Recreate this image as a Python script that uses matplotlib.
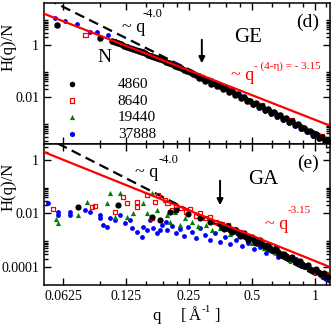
import numpy as np
import matplotlib
matplotlib.use('Agg')
import matplotlib.pyplot as plt
from matplotlib.ticker import FixedLocator, NullFormatter

plt.rcParams['font.family'] = ['Liberation Serif', 'DejaVu Serif']

# ---- GE panel data (q in 1/A, H(q)/N) ----
ge_q_4860 = [0.0585, 0.0939,
             0.1071, 0.1145, 0.1223, 0.1306, 0.1396, 0.149, 0.1592, 0.170, 0.1817, 0.194,
             0.2074, 0.2215, 0.2366, 0.2528, 0.270, 0.2884, 0.308, 0.329, 0.3516, 0.3756,
             0.401, 0.4287, 0.458, 0.489, 0.5225, 0.558, 0.596, 0.637, 0.680, 0.727,
             0.776, 0.829, 0.886, 0.946, 1.011, 1.080, 1.154,
             0.1108, 0.1183, 0.1264, 0.1349, 0.1442, 0.154, 0.1646, 0.1758, 0.1878, 0.2006,
             0.2143, 0.229, 0.2446, 0.261,
             0.279, 0.298, 0.318, 0.340, 0.3634, 0.388, 0.4147, 0.443, 0.473, 0.5056,
             0.540, 0.577, 0.616, 0.658, 0.703, 0.751, 0.8026, 0.857, 0.916, 0.978,
             1.045, 1.116]
ge_h_4860 = [5.88, 1.86,
             1.45, 1.17, 0.95, 0.767, 0.63, 0.519, 0.427, 0.352, 0.29, 0.228,
             0.181, 0.1426, 0.112, 0.089, 0.070, 0.0557, 0.0439, 0.0348, 0.0274, 0.0218,
             0.017, 0.013, 0.0098, 0.00733, 0.00567, 0.00443, 0.00345, 0.00265, 0.00203, 0.00156,
             0.00118, 0.00089, 0.000665, 0.000492, 0.000371, 0.000277, 0.000208,
             1.30, 1.05, 0.853, 0.695, 0.573, 0.471, 0.388, 0.319, 0.258, 0.203,
             0.160, 0.127, 0.1, 0.0794,
             0.052, 0.041, 0.032, 0.0255, 0.0200, 0.0158, 0.0119, 0.0091, 0.0069, 0.0053,
             0.0041, 0.0032, 0.0025, 0.00190, 0.00146, 0.00112, 0.00086, 0.00064, 0.00048, 0.00036,
             0.00027, 0.000202]
ge_q_8640 = [0.0798, 0.1145, 0.149, 0.2074, 0.2884, 0.401, 0.558, 0.776, 1.08]
ge_h_8640 = [2.42, 1.2, 0.55, 0.19, 0.058, 0.018, 0.0046, 0.00125, 0.0003]
ge_q_19440 = [0.122, 0.1592, 0.2366, 0.34, 0.489, 0.727, 0.946, 1.154]
ge_h_19440 = [0.98, 0.43, 0.115, 0.032, 0.0075, 0.0015, 0.00048, 0.000205]
ge_q_37888 = [0.0573, 0.0639, 0.073, 0.0841, 0.0909, 0.102,
              0.1108, 0.1183, 0.1264, 0.1349, 0.1442, 0.154, 0.1646, 0.1758, 0.1878, 0.2006,
              0.2143, 0.229, 0.2446, 0.261, 0.279, 0.298, 0.318, 0.340, 0.3634, 0.388,
              0.4147, 0.443,
              0.473, 0.5056, 0.540, 0.577, 0.616, 0.658, 0.703, 0.751, 0.8026, 0.857,
              0.916, 0.978, 1.045, 1.116]
ge_h_37888 = [10.9, 8.4, 6.4, 3.16, 3.3, 2.42,
              1.45, 1.05, 0.95, 0.695, 0.64, 0.471, 0.43, 0.319, 0.29, 0.203,
              0.18, 0.127, 0.112, 0.0794, 0.07, 0.0497, 0.044, 0.031, 0.0244, 0.0193,
              0.0146, 0.0111,
              0.0068, 0.0050, 0.0039, 0.0030, 0.0023, 0.00176, 0.00134, 0.00103, 0.00078, 0.00058,
              0.00044, 0.00033, 0.00025, 0.00018]

# ---- GA panel data ----
ga_q_4860 = [0.0737, 0.1145, 0.1664, 0.1817,
             0.2028, 0.217, 0.247, 0.282, 0.315,
             0.3516, 0.3675, 0.384, 0.401, 0.419, 0.438, 0.458, 0.479, 0.5, 0.5225,
             0.546, 0.571, 0.596, 0.623, 0.651, 0.680, 0.711, 0.743, 0.776, 0.811,
             0.848, 0.886, 0.926, 0.9675, 1.011, 1.056, 1.104, 1.154,
             0.3596, 0.3756, 0.3925, 0.4105, 0.4287, 0.448, 0.468, 0.489, 0.511, 0.534,
             0.558, 0.583, 0.609, 0.637, 0.666, 0.696, 0.727, 0.759, 0.794, 0.829,
             0.867, 0.906, 0.946, 1.0, 1.034, 1.080, 1.129]
ga_h_4860 = [0.0174, 0.0206, 0.0073, 0.0057,
             0.0113, 0.0134, 0.0095, 0.0067, 0.0048,
             0.0040, 0.0025, 0.0034, 0.00193, 0.0024, 0.00141, 0.00177, 0.00105, 0.0013, 0.00078,
             0.00101, 0.0006, 0.00065, 0.00043, 0.0005, 0.00028, 0.0003, 0.000214, 0.000233, 0.000151,
             0.000165, 0.000107, 0.000115, 7.6e-5, 8.3e-5, 5.8e-5, 5.8e-5, 4.2e-5,
             0.00318, 0.00284, 0.00245, 0.0021, 0.00184, 0.00159, 0.00139, 0.0012, 0.00101, 0.00085,
             0.000714, 0.0006, 0.000506, 0.000426, 0.000358, 0.0003, 0.000254, 0.000214, 0.00018, 0.000151,
             0.000124, 0.000103, 8.6e-5, 7.3e-5, 6.3e-5, 5.4e-5, 4.65e-5]
ga_q_8640 = [0.056, 0.086, 0.0889, 0.1108, 0.121, 0.1264, 0.1411, 0.1411, 0.1575, 0.1664,
             0.172, 0.1777, 0.192,
             0.197, 0.2074, 0.2167, 0.229, 0.242, 0.2528, 0.270, 0.282, 0.298, 0.315,
             0.336, 0.3596, 0.384, 0.4105, 0.438, 0.479, 0.5225, 0.583, 0.651, 0.727,
             0.811, 0.906, 1.011, 1.129]
ga_h_8640 = [0.0146, 0.0174, 0.0189, 0.0113, 0.0411, 0.0245, 0.0267, 0.0174, 0.0489, 0.0067,
             0.0267, 0.0489, 0.0318,
             0.0245, 0.0134, 0.0189, 0.0159, 0.0113, 0.0146, 0.0080, 0.0104, 0.0067, 0.0073,
             0.00476, 0.0040, 0.0037, 0.0026, 0.0020, 0.00141, 0.00101, 0.00065, 0.00043, 0.000254,
             0.000165, 0.000107, 6.9e-5, 5e-5]
ga_q_19440 = [0.0579, 0.0592, 0.0737, 0.0814, 0.1014, 0.1048, 0.117, 0.1108, 0.1264, 0.1349,
              0.1507, 0.1664, 0.1575, 0.1758,
              0.1955, 0.2028, 0.2143, 0.2265, 0.239, 0.2584, 0.276, 0.301, 0.322, 0.3516,
              0.3925, 0.438, 0.5, 0.571, 0.651, 0.759, 0.896, 1.056]
ga_h_19440 = [0.0062, 0.0044, 0.0087, 0.0267, 0.0245, 0.058, 0.058, 0.0073, 0.0073, 0.0104,
              0.0245, 0.058, 0.0104, 0.0134,
              0.0087, 0.0048, 0.0113, 0.0037, 0.0067, 0.0048, 0.0034, 0.0037, 0.0024, 0.0028,
              0.0017, 0.00141, 0.00078, 0.0005, 0.00033, 0.000179, 0.0001, 5.8e-5]
ga_q_37888 = [0.053, 0.0592, 0.0592, 0.0675, 0.0675, 0.0798, 0.0841, 0.0939, 0.0939, 0.097,
              0.1014, 0.1048, 0.1108, 0.117, 0.1236, 0.1306, 0.1335, 0.1411, 0.149, 0.1507,
              0.1575, 0.1628, 0.1682, 0.1758, 0.1817, 0.1857,
              0.194, 0.197, 0.2074, 0.2167, 0.2265, 0.2366, 0.247, 0.2584, 0.270, 0.282,
              0.298, 0.315, 0.333, 0.3516, 0.371, 0.3925, 0.419, 0.448, 0.479, 0.511,
              0.546, 0.583, 0.623, 0.666, 0.711, 0.759, 0.811, 0.867, 0.926, 1.0,
              1.056, 1.129]
ga_h_37888 = [0.0245, 0.0113, 0.0087, 0.0113, 0.0087, 0.0134, 0.0113, 0.0087, 0.0067, 0.0037,
              0.0031, 0.0067, 0.0057, 0.0087, 0.0044, 0.0057, 0.0028, 0.0020, 0.0013, 0.0031,
              0.0024, 0.0057, 0.0028, 0.0018, 0.0024, 0.0037,
              0.0048, 0.0024, 0.0034, 0.0018, 0.0026, 0.00141, 0.0031, 0.0020, 0.00119, 0.0028,
              0.00155, 0.00101, 0.0018, 0.00085, 0.00131, 0.00071, 0.00101, 0.0006, 0.00078, 0.00047,
              0.00055, 0.00033, 0.00039, 0.00023, 0.00028, 0.000164, 0.000194, 0.000107, 8.9e-5, 5.8e-5,
              5e-5, 3.6e-5]

# power-law guide lines: amplitude, exponent
ge_fit = (1.33e-3, -3.15)
ge_porod = (4.5e-4, -4.0)
ga_fit = (1.65e-4, -3.15)
ga_porod = (5.07e-5, -4.0)

sizes = ['4860', '8640', '19440', '37888']
xlim = (0.0507, 1.18)

fig = plt.figure(figsize=(3.32, 3.27), dpi=100)
ax1 = fig.add_axes([0.1325, 0.5596, 0.8614, 0.4312])
ax2 = fig.add_axes([0.1325, 0.1284, 0.8614, 0.4312])


def draw(ax, data, fit, porod, black_size):
    (q1, h1), (q2, h2), (q3, h3), (q4, h4) = data
    qq = np.geomspace(xlim[0], xlim[1], 50)
    ax.plot(qq, porod[0] * qq ** porod[1], color='black', lw=1.6, ls=(0, (4.5, 2.5)), zorder=1)
    ax.scatter(q4, h4, s=12, c='#0000ff', marker='o', linewidths=0, zorder=2)
    ax.scatter(q3, h3, s=14, c='#008000', marker='^', linewidths=0, zorder=3)
    ax.scatter(q2, h2, s=12, facecolors='none', edgecolors='#ff0000', marker='s',
               linewidths=0.9, zorder=4)
    ax.scatter(q1, h1, s=black_size, c='black', marker='o', linewidths=0, zorder=5)
    ax.plot(qq, fit[0] * qq ** fit[1], color='#ff0000', lw=1.6, zorder=6)
    ax.set_xscale('log')
    ax.set_yscale('log')
    ax.set_xlim(*xlim)
    ax.xaxis.set_major_locator(FixedLocator([0.0625, 0.125, 0.25, 0.5, 1.0]))
    minx = [0.09375]
    for b in [0.125, 0.25, 0.5]:
        minx += [b * 1.25, b * 1.5, b * 1.75]
    minx += [1.125]
    ax.xaxis.set_minor_locator(FixedLocator(minx))
    ax.xaxis.set_minor_formatter(NullFormatter())
    ax.yaxis.set_major_locator(FixedLocator([1e-4, 1e-2, 1.0, 100.0]))
    miny = [k * 10.0 ** n for n in (-4, -2, 0) for k in range(2, 10)]
    ax.yaxis.set_minor_locator(FixedLocator(miny))
    ax.yaxis.set_minor_formatter(NullFormatter())
    ax.tick_params(which='both', direction='in', top=True, right=True, width=1.0)
    ax.tick_params(which='major', length=5, labelsize=10)
    ax.tick_params(which='minor', length=3)
    for s in ax.spines.values():
        s.set_linewidth(1.1)


draw(ax1, [(ge_q_4860, ge_h_4860), (ge_q_8640, ge_h_8640),
           (ge_q_19440, ge_h_19440), (ge_q_37888, ge_h_37888)], ge_fit, ge_porod, 22)
draw(ax2, [(ga_q_4860, ga_h_4860), (ga_q_8640, ga_h_8640),
           (ga_q_19440, ga_h_19440), (ga_q_37888, ga_h_37888)], ga_fit, ga_porod, 20)

ax1.set_ylim(1.556e-4, 41.2)
ax2.set_ylim(2.08e-5, 3.97)
ax1.set_yticklabels(['0.0001', '0.01', '1', '100'])
ax2.set_yticklabels(['0.0001', '0.01', '1', '100'])
ax1.set_xticklabels([])
ax2.set_xticklabels(['0.0625', '0.125', '0.25', '0.5', '1'])

# panel labels and annotations
ax1.text(0.923, 0.865, '(d)', transform=ax1.transAxes, ha='center', va='center', fontsize=14)
ax1.text(0.713, 0.752, 'GE', transform=ax1.transAxes, ha='center', va='center', fontsize=15)
ax1.text(0.315, 0.823, '~ q', transform=ax1.transAxes, ha='center', va='center', fontsize=13)
ax1.text(0.346, 0.922, '-4.0', transform=ax1.transAxes, ha='left', va='center', fontsize=9)
ax1.text(0.696, 0.489, '~ q', transform=ax1.transAxes, ha='center', va='center',
         fontsize=13, color='#ff0000')
ax1.text(0.734, 0.553, '- (4-η) = - 3.15', transform=ax1.transAxes, ha='left', va='center',
         fontsize=8, color='#ff0000')
ax1.text(0.213, 0.61, 'N', transform=ax1.transAxes, ha='center', va='center', fontsize=14)

ax2.text(0.923, 0.865, '(e)', transform=ax2.transAxes, ha='center', va='center', fontsize=14)
ax2.text(0.766, 0.745, 'GA', transform=ax2.transAxes, ha='center', va='center', fontsize=15)
ax2.text(0.36, 0.801, '~ q', transform=ax2.transAxes, ha='center', va='center', fontsize=13)
ax2.text(0.399, 0.887, '-4.0', transform=ax2.transAxes, ha='left', va='center', fontsize=9)
ax2.text(0.815, 0.426, '~ q', transform=ax2.transAxes, ha='center', va='center',
         fontsize=13, color='#ff0000')
ax2.text(0.853, 0.525, '-3.15', transform=ax2.transAxes, ha='left', va='center',
         fontsize=8, color='#ff0000')

arrow = dict(arrowstyle='-|>', color='black', lw=1.4, mutation_scale=9)
ax1.annotate('', xy=(0.288, 0.156), xytext=(0.288, 2.03), arrowprops=arrow, zorder=7)
ax2.annotate('', xy=(0.352, 0.0159), xytext=(0.352, 0.212), arrowprops=arrow, zorder=7)

# legend
h = [ax1.scatter([], [], s=16, c='black', marker='o', linewidths=0),
     ax1.scatter([], [], s=12, facecolors='none', edgecolors='#ff0000', marker='s', linewidths=0.9),
     ax1.scatter([], [], s=14, c='#008000', marker='^', linewidths=0),
     ax1.scatter([], [], s=14, c='#0000ff', marker='o', linewidths=0)]
ax1.legend(h, sizes, loc='upper left', bbox_to_anchor=(0.071, 0.474), frameon=False,
           fontsize=11, handlelength=1.0, handletextpad=2.5, labelspacing=0.2,
           borderpad=0, borderaxespad=0, markerscale=1.0)

# axis labels
fig.text(0.025, 1 - 47 / 327, 'H(q)/N', rotation=90, ha='center', va='center', fontsize=12)
fig.text(0.025, 1 - 187 / 327, 'H(q)/N', rotation=90, ha='center', va='center', fontsize=12)
fig.text(157 / 332, 1 - 316 / 327, 'q', ha='center', va='center', fontsize=12)
fig.text(183 / 332, 1 - 316 / 327, '[', ha='center', va='center', fontsize=12)
fig.text(195 / 332, 1 - 316 / 327, 'Å', ha='center', va='center', fontsize=12)
fig.text(202 / 332, 1 - 309 / 327, '-1', ha='left', va='center', fontsize=8)
fig.text(217 / 332, 1 - 316 / 327, ']', ha='center', va='center', fontsize=12)

fig.savefig('out.png', dpi=100)
